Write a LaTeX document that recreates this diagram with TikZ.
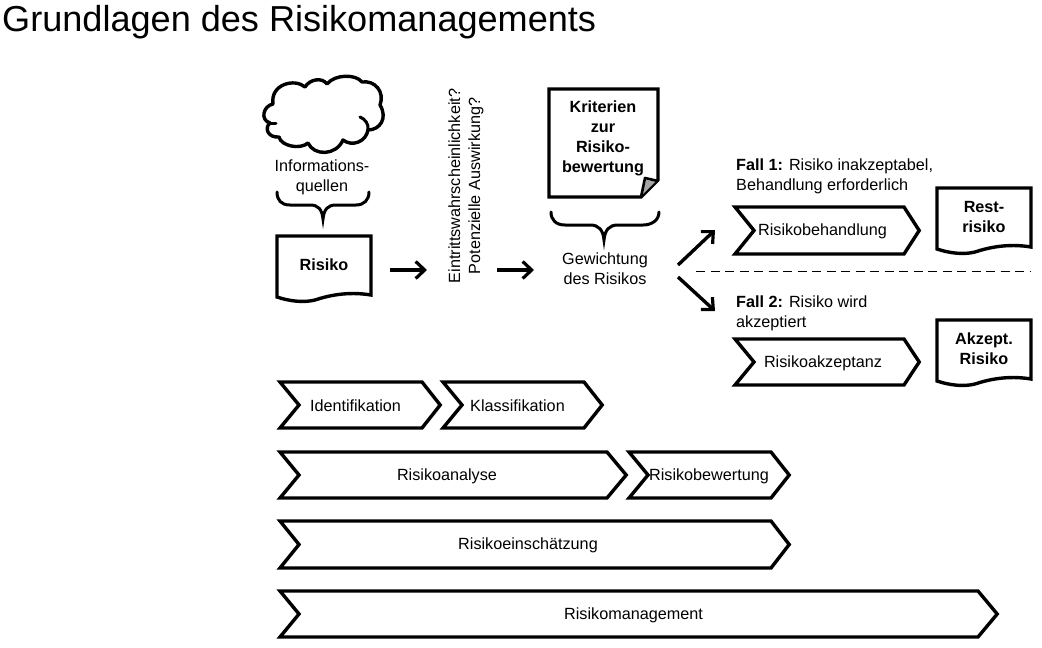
\documentclass[tikz,border=0pt]{standalone}
\usepackage{fontspec}
\setmainfont{Liberation Sans}
\usetikzlibrary{arrows.meta}
\tikzset{
  x=1pt,y=-1pt,
  shapeline/.style={draw=black,line width=3.4pt,line join=miter,fill=white},
  flow/.style={draw=black,line width=3.4pt,-{Straight Barb[length=9pt,width=17pt,line width=3.2pt]}},
  bracelike/.style={draw=black,line width=3pt,line cap=round},
  lab/.style={font=\fontsize{16.2}{20}\selectfont,align=center,inner sep=0pt,text=black},
  labb/.style={lab,font=\fontsize{16.2}{20}\selectfont\bfseries},
}
\newcommand{\chevr}[7]{% name, left, shoulder, tip, top, bottom, text x
  \draw[shapeline] ({#2+2},#5) -- ({#3+1},#5) -- ({#4-0.8},{(#5+#6)/2}) -- ({#3+1},#6) -- ({#2+2},#6) -- ({#2+21},{(#5+#6)/2}) -- cycle;
  \node[lab] (#1) at (#7,{(#5+#6)/2+1}) {\chevtext};
}
\newcommand{\docu}[5]{% name,left,top,text offset,text
  \draw[shapeline] (#2,#3) -- ({#2+94},#3) -- ({#2+94},{#3+59}) .. controls ({#2+70},{#3+55}) and ({#2+50},{#3+60}) .. ({#2+38},{#3+64}) .. controls ({#2+26},{#3+67}) and ({#2+12},{#3+65}) .. (#2,{#3+61}) -- cycle;
  \node[labb] (#1) at ({#2+47},{#3+#4}) {#5};
}
\newcommand{\chev}[8]{\def\chevtext{#8}\chevr{#1}{#2}{#3}{#4}{#5}{#6}{#7}}
\begin{document}
\begin{tikzpicture}
\useasboundingbox (0,0) rectangle (1042,648);
\node[anchor=base west,inner sep=0pt,font=\fontsize{36.1}{40}\selectfont] (title) at (2,31) {Grundlagen des Risikomanagements};

% cloud
\draw[shapeline,line join=round] (273,104)
  .. controls (263,106) and (260,120) .. (270,123)
  .. controls (264,128) and (268,138) .. (279,137)
  .. controls (281,146) and (300,150) .. (308,143)
  .. controls (314,156) and (336,156) .. (343,140)
  .. controls (352,147) and (366,142) .. (368,130)
  .. controls (380,130) and (388,118) .. (380,105)
  .. controls (385,92) and (375,80) .. (362,82)
  .. controls (356,74) and (335,74) .. (327,84)
  .. controls (322,77) and (310,79) .. (305,87)
  .. controls (295,78) and (270,84) .. (273,104) -- cycle;
\draw[bracelike] (270,123) -- (276,123);
\draw[bracelike] (360,117) .. controls (365,119) and (369,124) .. (368,130);
\node[lab] (quellen) at (322,177) {Informations-\\quellen};

% brace 1
\coordinate (b1) at (323,219);
\draw[bracelike] (277,192) .. controls (277,200) and (281,205) .. (290,205) -- (310,205) .. controls (318,205) and (322,209) .. (b1) .. controls (324,209) and (328,205) .. (336,205) -- (356,205) .. controls (364,205) and (369,200) .. (369,192);

\docu{risiko}{277}{236}{29}{Risiko}

\node[lab,rotate=90] (fragen) at (466,186) {Eintrittswahrscheinlichkeit?\\Potenzielle Auswirkung?};

% criteria
\draw[shapeline] (549,89) -- (658,89) -- (658,180) -- (641,197) -- (549,197) -- cycle;
\fill[black!35] (646,180) -- (656,181) -- (641,196) -- cycle;
\draw[draw=black,line width=2.6pt,line join=round] (658,181) -- (645,178) -- (641,197);
\node[labb] (krit) at (603,138.5) {Kriterien\\zur\\Risiko-\\bewertung};

% brace 2
\coordinate (b2) at (604,240);
\draw[bracelike] (551,212) .. controls (551,220) and (556,225) .. (565,225) -- (590,225) .. controls (599,225) and (603,230) .. (b2) .. controls (605,230) and (609,225) .. (618,225) -- (643,225) .. controls (652,225) and (659,220) .. (659,212);
\node[lab] (gew) at (605,268.5) {Gewichtung\\des Risikos};

% connectors
\coordinate (rfrom) at (390,270); \coordinate (rto) at (427,270);
\coordinate (ffrom) at (497,270); \coordinate (fto) at (534,270);
\draw[flow] (rfrom) -- (rto);
\draw[flow] (ffrom) -- (fto);
\coordinate (up0) at (678,265); \coordinate (up1) at (715,230);
\coordinate (dn0) at (678,277); \coordinate (dn1) at (715,311);
\draw[flow] (up0) -- (up1);
\draw[flow] (dn0) -- (dn1);

% separator
\coordinate (d0) at (696,271); \coordinate (d1) at (1030,271);
\draw[black,line width=1pt,dash pattern=on 9pt off 5.5pt] (d0) -- (d1);

% cases
\node[lab,anchor=base west,align=left] (fall1) at (736,190) {\textbf{Fall 1:} Risiko inakzeptabel,\\Behandlung erforderlich};
\node[lab,anchor=base west,align=left] (fall2) at (736,327) {\textbf{Fall 2:} Risiko wird\\akzeptiert};
\chev{beh}{733}{903}{920}{207}{254}{822.5}{Risikobehandlung}
\chev{akz}{733}{903}{920}{339}{385}{823}{Risikoakzeptanz}
\docu{rest}{937}{188}{29}{Rest-\\risiko}
\docu{akzr}{937}{320}{29}{Akzept.\\Risiko}

% phases
\chev{ident}{278}{421}{441}{382}{428}{355.5}{Identifikation}
\chev{klass}{441}{583}{603}{382}{428}{517.5}{Klassifikation}
\chev{anal}{278}{606}{627}{452}{498}{447}{Risikoanalyse}
\chev{bew}{627}{770}{790}{452}{498}{709}{Risikobewertung}
\chev{ein}{278}{770}{790}{521}{568}{528}{Risikoeinschätzung}
\chev{man}{278}{977}{998}{591}{637}{633.5}{Risikomanagement}
\end{tikzpicture}
\end{document}
